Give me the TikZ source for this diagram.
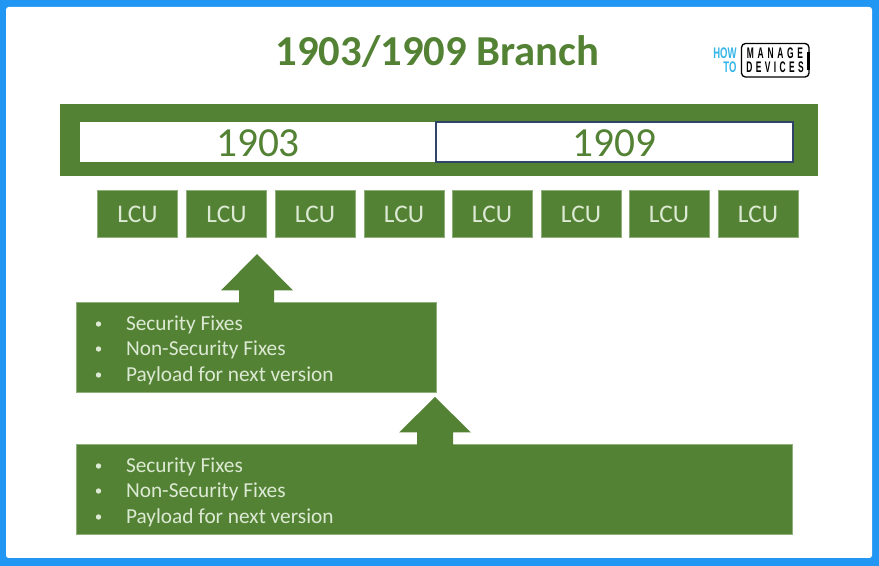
\documentclass[tikz,border=0pt]{standalone}
\usepackage{fontspec}
\setmainfont{Carlito}
\newfontfamily\logofontm[LetterSpace=44]{Liberation Sans}
\newfontfamily\logofontd[LetterSpace=40]{Liberation Sans}
\newfontfamily\howfont{Liberation Sans}
\definecolor{lcugreen}{HTML}{548235}
\definecolor{edgegreen}{HTML}{8FB07A}
\definecolor{textpale}{HTML}{DCE9D3}
\definecolor{frameblue}{HTML}{2196F3}
\definecolor{howblue}{HTML}{35B6E8}
\definecolor{navy}{HTML}{2F4468}
\tikzset{
  x=0.75pt,y=-0.75pt,
  px/.style={inner sep=0,outer sep=0},
  greenfill/.style={fill=lcugreen,draw=none},
  lcubox/.style={px,fill=lcugreen,draw=edgegreen,line width=0.4pt,minimum width=60.2pt,minimum height=35.6pt,text=textpale,font=\fontsize{19}{19}\selectfont},
  fixbox/.style={px,fill=lcugreen,draw=edgegreen,line width=0.4pt,anchor=north west,minimum height=67.5pt},
  bullettext/.style={px,anchor=west,text=textpale,font=\fontsize{16}{16}\selectfont},
  bulletdot/.style={circle,fill=textpale,minimum size=4pt,px},
  vertext/.style={text=lcugreen,font=\fontsize{31}{31}\selectfont,px},
  howtext/.style={px,anchor=east,text=howblue,font=\howfont\bfseries\fontsize{11.5}{11.5}\selectfont,xscale=.62},
}
\begin{document}
\begin{tikzpicture}
\useasboundingbox (0,0) rectangle (879,566);
\fill[frameblue] (0,0) rectangle (879,566);
\fill[white,rounded corners=2pt] (6,7) rectangle (872,558);
\node[px,text=lcugreen,font=\bfseries\fontsize{32}{32}\selectfont] (title) at (437.5,52) {1903/1909 Branch};
% branch bar
\fill[lcugreen] (60,104) rectangle (818,176);
\node[px,fill=white,anchor=north west,minimum width=267pt,minimum height=30pt] (a) at (80,122) {};
\node[px,fill=white,draw=navy,line width=1.3pt,anchor=north west,minimum width=267.5pt,minimum height=30pt] (b) at (436,122) {};
\node[vertext] at (258,143.5) {1903};
\node[vertext] at (614.5,143.5) {1909};
% LCU
\node[lcubox] (l1) at (137.5,214) {LCU};
\node[lcubox] (l2) at (226.5,214) {LCU};
\node[lcubox] (l3) at (315,214) {LCU};
\node[lcubox] (l4) at (404,214) {LCU};
\node[lcubox] (l5) at (492,214) {LCU};
\node[lcubox] (l6) at (581,214) {LCU};
\node[lcubox] (l7) at (669,214) {LCU};
\node[lcubox] (l8) at (758,214) {LCU};
% boxes
\node[fixbox,minimum width=270.5pt] (f1) at (76,302) {};
\node[fixbox,minimum width=537.5pt] (f2) at (76,444) {};
% arrows
\fill[greenfill] (257,254) -- (293,290.5) -- (274,290.5) -- (274,304) -- (239,304) -- (239,290.5) -- (221,290.5) -- cycle;
\fill[greenfill] (435,397) -- (471,432.5) -- (453,432.5) -- (453,446) -- (417,446) -- (417,432.5) -- (399,432.5) -- cycle;
\foreach \y/\t in {325/Security Fixes,350/Non-Security Fixes,376/Payload for next version,
                   467/Security Fixes,492/Non-Security Fixes,518/Payload for next version}{
  \node[bulletdot] at (98.5,\y-1) {};
  \node[bullettext] at (126,\y) {\t};
}
% logo
\node[howtext] (how) at (736.5,53.5) {HOW};
\node[howtext] (to) at (736.5,67.5) {TO};
\draw[black,line width=1pt,rounded corners=3pt] (741.5,43.5) rectangle (809,77);
\fill[black] (806.5,52) rectangle (809.5,70);
\node[px,text=black,font=\logofontm\bfseries\fontsize{11.5}{11.5}\selectfont,xscale=.55] (m) at (775,53.7) {MANAGE};
\node[px,text=black,font=\logofontd\bfseries\fontsize{11.5}{11.5}\selectfont,xscale=.55] (d) at (775,67.5) {DEVICES};
\end{tikzpicture}
\end{document}
